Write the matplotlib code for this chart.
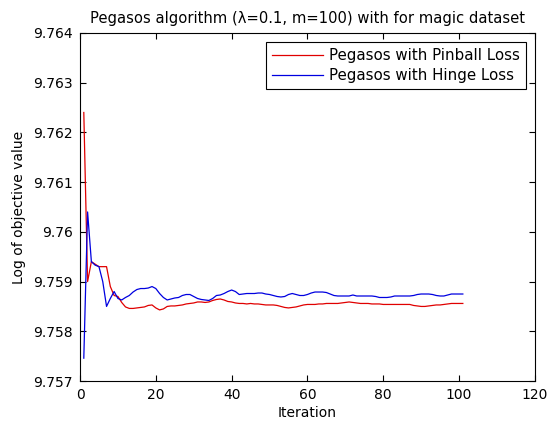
import numpy as np
import matplotlib.pyplot as plt
from matplotlib.ticker import FixedLocator, FixedFormatter

plt.rcParams['font.family'] = ['DejaVu Sans']

iterations = np.arange(1, 102)

pinball = [
    9.76240, 9.75900, 9.75940, 9.75935, 9.75930, 9.75930, 9.75930, 9.75890, 9.75872, 9.75870,
    9.75858, 9.75849, 9.75846, 9.75846, 9.75847, 9.75848, 9.75849, 9.75852, 9.75853, 9.75847,
    9.75843, 9.75845, 9.75850, 9.75851, 9.75851, 9.75852, 9.75853, 9.75855, 9.75856, 9.75857,
    9.75859, 9.75859, 9.75858, 9.75859, 9.75862, 9.75864, 9.75865, 9.75863, 9.75860, 9.75859,
    9.75857, 9.75856, 9.75856, 9.75855, 9.75856, 9.75855, 9.75855, 9.75854, 9.75853, 9.75853,
    9.75853, 9.75852, 9.75850, 9.75848, 9.75847, 9.75848, 9.75849, 9.75851, 9.75853, 9.75854,
    9.75854, 9.75854, 9.75855, 9.75855, 9.75856, 9.75856, 9.75856, 9.75856, 9.75857, 9.75858,
    9.75859, 9.75858, 9.75857, 9.75856, 9.75856, 9.75856, 9.75855, 9.75855, 9.75855, 9.75854,
    9.75854, 9.75854, 9.75854, 9.75854, 9.75854, 9.75854, 9.75854, 9.75852, 9.75851, 9.75850,
    9.75850, 9.75851, 9.75852, 9.75853, 9.75853, 9.75854, 9.75855, 9.75856, 9.75856, 9.75856,
    9.75856,
]

hinge = [
    9.75746, 9.76040, 9.75940, 9.75933, 9.75930, 9.75900, 9.75850, 9.75866, 9.75880, 9.75866,
    9.75863, 9.75868, 9.75872, 9.75879, 9.75884, 9.75886, 9.75886, 9.75887, 9.75890, 9.75886,
    9.75876, 9.75868, 9.75863, 9.75865, 9.75867, 9.75868, 9.75872, 9.75874, 9.75874, 9.75870,
    9.75866, 9.75864, 9.75863, 9.75862, 9.75866, 9.75872, 9.75873, 9.75876, 9.75880, 9.75883,
    9.75880, 9.75874, 9.75875, 9.75876, 9.75876, 9.75876, 9.75877, 9.75877, 9.75875, 9.75874,
    9.75872, 9.75870, 9.75869, 9.75870, 9.75874, 9.75876, 9.75874, 9.75872, 9.75872, 9.75874,
    9.75877, 9.75879, 9.75879, 9.75879, 9.75878, 9.75875, 9.75872, 9.75871, 9.75871, 9.75871,
    9.75871, 9.75873, 9.75871, 9.75871, 9.75871, 9.75871, 9.75871, 9.75870, 9.75868, 9.75868,
    9.75868, 9.75869, 9.75871, 9.75871, 9.75871, 9.75871, 9.75871, 9.75872, 9.75874, 9.75875,
    9.75875, 9.75875, 9.75874, 9.75872, 9.75871, 9.75871, 9.75873, 9.75875, 9.75875, 9.75875,
    9.75875,
]

x_ticks = [0, 20, 40, 60, 80, 100, 120]
y_ticks = [9.757, 9.758, 9.759, 9.760, 9.761, 9.762, 9.763, 9.764]
y_labels = ["9.757", "9.758", "9.759", "9.76", "9.761", "9.762", "9.763", "9.764"]

fig = plt.figure(figsize=(5.48, 4.33), dpi=100)
ax = fig.add_axes([0.146, 0.12, 0.83, 0.804])

ax.plot(iterations, pinball, color="#e00000", linewidth=0.9, label="Pegasos with Pinball Loss")
ax.plot(iterations, hinge, color="#0000e0", linewidth=0.9, label="Pegasos with Hinge Loss")

ax.set_xlim(0, 120)
ax.set_ylim(9.757, 9.764)
ax.xaxis.set_major_locator(FixedLocator(x_ticks))
ax.yaxis.set_major_locator(FixedLocator(y_ticks))
ax.yaxis.set_major_formatter(FixedFormatter(y_labels))
ax.tick_params(direction="in", top=True, right=True, labelsize=10, length=4, width=0.8, pad=5)
for s in ax.spines.values():
    s.set_linewidth(0.8)

ax.set_title("Pegasos algorithm (\u03bb=0.1, m=100) with for magic dataset", fontsize=10.6, pad=7)
ax.set_xlabel("Iteration", fontsize=10, labelpad=3)
ax.set_ylabel("Log of objective value", fontsize=10, labelpad=5)

leg = ax.legend(loc="upper right", fontsize=10.8, fancybox=False, edgecolor="black",
                framealpha=1, handlelength=3.4, handletextpad=0.4, borderaxespad=0.6,
                borderpad=0.4, labelspacing=0.35)
leg.get_frame().set_linewidth(0.8)

fig.savefig("out.png", dpi=100)
